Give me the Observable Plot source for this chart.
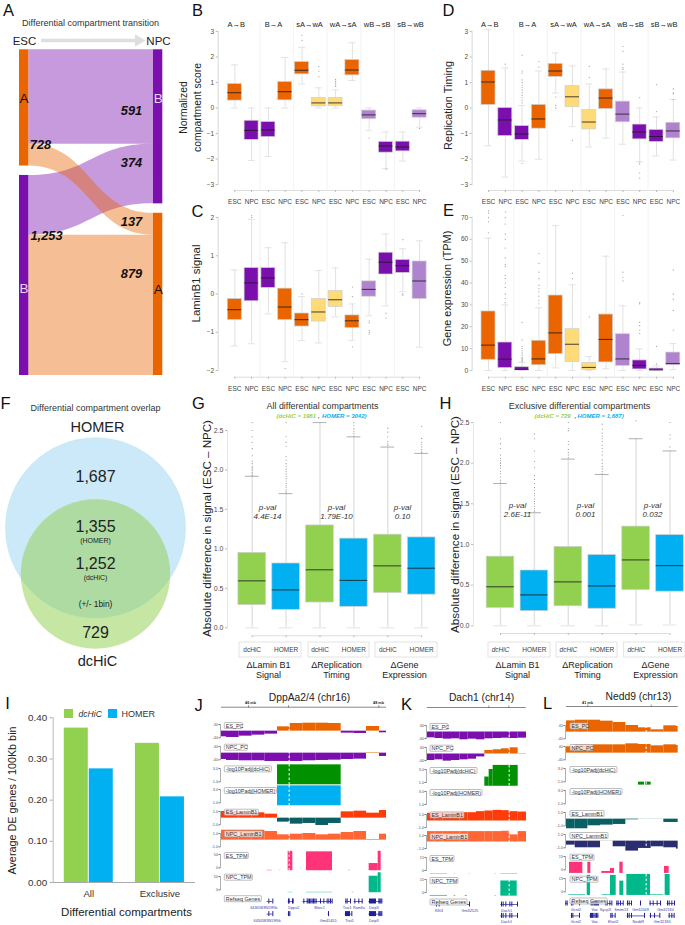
<!DOCTYPE html>
<html><head><meta charset="utf-8">
<script src="https://cdn.jsdelivr.net/npm/d3@7"></script>
<script src="https://cdn.jsdelivr.net/npm/@observablehq/plot@0.6"></script>
<style>html,body{margin:0;padding:0;background:#fff}#page{position:relative;width:685px;height:925px;overflow:hidden;font-family:"Liberation Sans"}</style>
</head><body><div id="page"></div>
<script>
// ---------- DATA ----------
const orange="#EA6500",purple="#7A0FAE",yellow="#FEDB77",lilac="#B083CF",green="#92D050",blue="#00B0F0";
const fills12=[orange,purple,purple,orange,orange,yellow,yellow,orange,lilac,purple,purple,lilac];
const cellLabels=["ESC","NPC","ESC","NPC","ESC","NPC","ESC","NPC","ESC","NPC","ESC","NPC"];

// A: sankey
const flowFrom=["A","A","B","B"], flowTo=["B","A","B","A"], flowValues=[591,137,374,879];
const sankeyGap=59;

// B: compartment score
const bLo=[0,-2.06,-1.9,0,.94,0,0,1.08,-.89,-2.37,-2.08,-.75];
const bQ1=[.29,-1.25,-1.14,.3,1.32,.06,.07,1.28,-.44,-1.75,-1.7,-.38];
const bMed=[.6,-.88,-.86,.64,1.48,.2,.2,1.49,-.27,-1.49,-1.53,-.22];
const bQ3=[.94,-.5,-.55,1.02,1.8,.39,.39,1.88,-.1,-1.33,-1.32,-.09];
const bHi=[1.69,0,0,1.98,2.38,.79,.71,2.56,0,-.94,-.94,0];
const bOut=[[],[],[],[],[2.85,2.65],[1.63,1.45,1.23],[1.12,1.05,.97,.9,.85],[],[-1.18],[-2.4],[],[-.8]];
// C: LaminB1
const cLo=[-1.36,-1.3,-.52,-1.77,-1.22,-1.28,-.6,-1.21,-.57,-.31,.06,-1.39];
const cQ1=[-.68,-.19,.16,-.68,-.85,-.72,-.34,-.89,-.07,.51,.55,-.13];
const cMed=[-.41,.29,.42,-.34,-.67,-.47,-.15,-.7,.12,.83,.74,.34];
const cQ3=[-.13,.68,.68,.14,-.51,-.13,.08,-.56,.33,1.08,.89,.85];
const cHi=[.63,1.95,1.21,1.34,-.07,.61,.68,-.26,.91,1.57,1.18,1.39];
const cOut=[[],[2,2.05],[],[-1.95],[0],[],[],[.18,-.07,-1.38],[-.7,-.75,-.95,-1,-1.05],[-.5,-.63],[1.42,0,-.03],[]];
// D: replication timing
const dLo=[-1.48,-2.71,-2.08,-2.01,.59,-.73,-1.53,-1.18,-1.42,-2.1,-1.88,-2.04];
const dQ1=[.12,-1.1,-1.25,-.81,1.22,.03,-.84,-.04,-.56,-1.23,-1.33,-1.19];
const dMed=[1.02,-.47,-1.02,-.43,1.45,.44,-.55,.39,-.24,-.94,-1.12,-.9];
const dQ3=[1.46,0,-.71,.12,1.73,.86,-.08,.73,.25,-.65,-.86,-.58];
const dHi=[3.08,1.57,.1,1.45,2.16,1.65,.94,1.53,1.41,0,-.35,.33];
const dOut=[[],[1.72],[2.07,1.45,1.37,1.1,1,.9,.8,.7,.6,.5,.4,.3,.2,-2.17],[1.82,1.6],[.43,.1,0],[-1.27],[1.63,1.2],[],[2.42,2.22,1.72,1.58,1.52],[.41,-2.15,-2.2,-2.55,-2.75],[.92,-.14],[.75,.6,.55,.33]];
// E: gene expression
const eLo=[0,0,0,0,1.2,0,0,.8,0,0,0,.4];
const eQ1=[4.9,1.1,0,2.4,7.5,3.8,.2,3.7,2.1,.5,0,2.4];
const eMed=[11.6,5.2,.5,5.3,17.2,12,1.4,14.2,5.3,2.3,.3,3.2];
const eQ3=[27,12.8,1.5,13.6,34.3,18.9,3.5,25.6,16.6,4.6,.9,8.2];
const eHi=[60.5,30,3.8,28.7,66.3,39.2,6.4,52.3,29.6,9.9,2.1,12.3];
const eOut=[[63,68,70,72,73],[31,33,35,38,40,42,43.5,47.5,48.5,51.5,56,60,62.5,67,70,72.5],[4,4.5,5,5.5,6,7,8,9,10,11,14,22],[30.5,32,34,36,37.5,39,42,45,49,53.5],[],[42,44.5],[24.5],[],[41,42.5,45,71],[17,18.5,20.5,22,30.5,31],[3,11],[18.5,27.5,32.5,35,46]];

// G, H: absolute differences
const methods=["dcHiC","HOMER","dcHiC","HOMER","dcHiC","HOMER"];
const methodsH=["","HOMER","","HOMER","","HOMER"];
const fills6=[green,blue,green,blue,green,blue];
const gLo=[0,0,0,0,0,0];
const gQ1=[.287,.228,.32,.266,.44,.42];
const gMed=[.595,.48,.735,.6,.785,.755];
const gQ3=[.95,.815,1.297,1.13,1.18,1.145];
const gHi=[1.92,1.7,2.6,2.42,2.29,2.21];
const gOut=[[1.93,1.95,1.97,1.99,2.01,2.03,2.05,2.08,2.11,2.18,2.27,2.35,2.42,2.5,2.6],[1.71,1.73,1.75,1.78,1.8,1.83,1.86,1.89,1.92,1.95,1.98,2.01,2.04,2.08,2.12,2.17,2.3,2.35,2.42,2.6],[],[2.43,2.46,2.49,2.52,2.56,2.6],[2.31,2.33,2.36,2.42,2.48,2.53],[2.22,2.24,2.26,2.29,2.32,2.35,2.4,2.55]];
const hLo=[0,0,0,0,.01,.01];
const hQ1=[.22,.18,.24,.21,.44,.42];
const hMed=[.48,.38,.54,.49,.81,.74];
const hQ3=[.85,.68,.97,.87,1.22,1.115];
const hHi=[1.75,1.39,2.05,1.86,2.3,2.15];
const hOut=[[1.76,1.79,1.83,1.87,1.9,1.94,1.97,2,2.03,2.06,2.1,2.18,2.24,2.3,2.5],[1.41,1.44,1.47,1.5,1.53,1.56,1.6,1.63,1.66,1.7,1.75,1.8,1.85,1.95,2.02,2.15,2.3,2.36],[2.07,2.1,2.13,2.17,2.23,2.27,2.4,2.43,2.5],[1.87,1.9,1.93,1.96,2,2.04,2.1,2.14,2.18,2.22,2.27,2.3,2.33,2.37,2.42,2.48],[2.52],[2.2,2.3,2.35,2.5]];

// I: DE genes
const iGroups=["All","All","Exclusive","Exclusive"], iMethods=["dcHiC","HOMER","dcHiC","HOMER"], iValues=[.375,.276,.338,.208];

// J: DppAa2/4 tracks (genomic offset units)
const jEdges=[78,93,131,170,208,246,284,322,361,399,437,475,513,552,573];
const jEsPc=[-34,-38,-30,-24,-18,26,46,48,48,46,-12,-14,28,-10];
const jNpcPc=[-38,-44,-46,-46,-50,-50,-50,-46,-44,-42,-38,-36,3,-20];
const jEsLam=[1,1,.8,.8,.6,-.6,-.9,-.8,-1.1,-.8,.95,1.05,.75,1.15];
const jNpcLam=[1.5,1.5,1.5,1.5,1.3,.8,.9,1,.8,.9,1.15,1.3,-.05,.9];
const jDc=[[246,437,3.55]], jHomer=[[246,437,3.55]];
const jEsTpm=[[278,292,62],[333,411,60],[521,548,16],[548,557,62],[215,230,-9.5],[253,256,-9.5],[460,465,-9.5]];
const jNpcTpm=[[521,548,51],[548,557,64],[278,292,-9.5],[333,411,-9.5],[470,475,-9.5]];
const jGeneLines=[[0,215,232],[0,278,295],[0,322,412],[0,450,466],[0,476,503],[0,520,560],[1,215,232],[1,278,285],[1,398,401],[1,449,470],[1,520,560]];
const jExons0=[220,232,279,281,291,293,325,335,338,342,346,350,354,358,362,375,385,395,400,405,410,451,455,465,478,490,500,522,525,528,531,534,537,540,550,553,556,559];
const jExons1=[220,232,279,283,399,450,453,456,459,462,469,522,525,528,531,534,537,540,550,553,556,559];
const jGenes=[[0,205,"6430583N19Rik"],[0,295,"Dppa2"],[0,372,"Morc1"],[0,455,"Trat1"],[0,490,"Ramlla"],[0,535,"Dzip3"],[1,215,"6430583N19Rik"],[1,398,"Gm41455"],[1,462,"Trat1"],[1,535,"Dzip3"]];
// K: Dach1
const kEdges=[125,147,172,197,222,247,272,297,322,347,372,397,422];
const kEsPc=[-36,-40,-44,-42,-48,-44,-48,-42,-40,-38,-40,-38];
const kNpcPc=[-40,-36,-44,-40,-36,-32,-18,22,26,32,38,2];
const kEsLam=[1.18,1.28,1.28,1.28,1.28,1.28,1.44,1.54,1.64,1.59,1.44,1.38];
const kNpcLam=[1.6,1.6,1.6,1.6,1.6,1.6,1.6,1.6,1.6,1.65,1.1,1.6];
const kDc=[[297,310,1.84],[310,322,3],[322,397,3.63]], kHomer=[];
const kEsTpm=[[133,185,-3.8],[207,210,-3.8],[250,253,-3.8],[328,331,-3.8],[345,395,-3.8]];
const kNpcTpm=[[345,394,13.3],[133,185,-3.4],[205,210,-3.4],[238,245,-3.4],[328,331,-3.4]];
const kGeneLines=[[0,150,162],[0,245,253],[0,345,397],[1,345,397]];
const kExons0=[152,160,251,347,352,360,372,378,395];
const kExons1=[347,352,360,372,378,395];
const kGenes=[[0,160,"Klhl1"],[0,252,"Gm32525"],[0,362,"Dach1"],[1,362,"Dach1"]];
// L: Nedd9
const lEdges=[108,134,172,210,248,286,324,362,400,438,443];
const lEsPc=[68,72,72,66,58,40,26,14,38,34];
const lNpcPc=[38,50,50,50,50,56,52,44,50,46];
const lEsLam=[-1.45,-1.45,-1,-.9,-.8,-.1,-.02,-.02,-.5,-.5];
const lNpcLam=[-.6,-1,-1,-.02,-.85,-1.5,-1.1,-.85,-1,-1.2];
const lDc=[[324,342,.95],[345,362,.95]], lHomer=[];
const lEsTpm=[[117,157,8.5],[172,181,8.5],[214,240,-1.9],[240,252,1.5],[268,278,8.5],[402,416,3.8]];
const lNpcTpm=[[170,180,18.5],[240,257,18.5],[268,280,12],[289,360,19.6],[404,419,19.6],[115,165,-3.4],[215,240,-3.4],[360,400,-3.4]];
const lGeneLines=[[0,105,112],[0,122,150],[0,180,205],[0,225,245],[0,258,280],[0,290,305],[0,358,390],[0,410,435],[1,122,150],[1,178,205],[1,240,255],[1,290,345],[1,358,390],[1,415,432]];
const lExons0=[106,110,123,127,147,182,185,188,192,195,198,201,204,226,230,238,244,259,263,270,278,291,296,303,330,359,368,380,390,411,416,424,432];
const lExons1=[123,127,147,180,183,186,190,194,198,202,241,245,254,291,296,303,342,360,372,388,416,424,431];
const lGenes=[[0,136,"Gcnt2"],[0,192,"Vax"],[0,225,"Sycp2l"],[0,272,"Smim13"],[0,330,"Gm32449"],[0,405,"Gm32184"],[1,136,"Gcnt2"],[1,192,"Vax"],[1,248,"Elovl2"],[1,323,"Nedd9"],[1,395,"Gm32184"]];

// ---------- HELPERS ----------
const page=document.getElementById("page");
const baseStyle={background:"transparent",overflow:"visible",maxWidth:"none",fontFamily:"Liberation Sans"};
function mount(opts,left,top){
  const el=Plot.plot({...opts,style:baseStyle});
  el.style.position="absolute";el.style.left=left+"px";el.style.top=top+"px";
  page.appendChild(el);return el;
}
function boxPanel(c){
  const n=c.lo.length, W=c.w, H=c.h;
  const pad=1-c.boxW/c.step;
  const start=c.c0-(pad+(1-pad)/2)*c.step, end=start+(n+pad)*c.step;
  const rows=c.lo.map((lo,i)=>({i,lo,q1:c.q1[i],med:c.med[i],q3:c.q3[i],hi:c.hi[i],fill:c.fills[i]}));
  const outs=c.out.flatMap((a,i)=>a.map(v=>({i,v})));
  const marks=[];
  if(c.seps) marks.push(Plot.ruleX(c.seps,{x:d=>d,dx:c.step/2,stroke:"#f0f0f0",strokeWidth:.8,insetTop:-10,insetBottom:-7}));
  marks.push(
    Plot.frame({anchor:"left",stroke:"#e6e6e6",strokeWidth:c.axisW||1.6}),
    Plot.axisY({ticks:c.ticks,tickSize:2,tickPadding:2,fontSize:c.tickFont,fill:"#4d4d4d",stroke:"#bbbbbb",label:null,tickFormat:c.fmt}),
    Plot.ruleX(rows,{x:"i",y1:"lo",y2:"hi",stroke:"#e2e2e2",strokeWidth:c.whisk||1}),
    Plot.tickY(rows,{x:"i",y:"hi",stroke:c.capHi||"#dcdcdc",strokeWidth:.8,insetLeft:c.boxW/4,insetRight:c.boxW/4}),
    Plot.tickY(rows,{x:"i",y:"lo",stroke:"#dcdcdc",strokeWidth:.8,insetLeft:c.boxW/4,insetRight:c.boxW/4}),
    Plot.dot(outs,{x:"i",y:"v",r:c.outR||.65,fill:c.outFill||"#a8a8a8"}),
    Plot.barY(rows,{x:"i",y1:"q1",y2:"q3",fill:"fill",stroke:"#cfcfcf",strokeWidth:.7}),
    Plot.tickY(rows,{x:"i",y:"med",stroke:"#1c1c1c",strokeOpacity:.75,strokeWidth:1.1}),
    Plot.ruleY([c.yDomain[0]],{x1:0,x2:n-1,insetLeft:c.boxW/2,insetRight:c.boxW/2,dy:c.axisDy,stroke:"#dddddd",strokeWidth:1}),
    Plot.axisX({tickSize:2,dy:c.axisDy,tickPadding:c.tickPad,fontSize:c.xFont,fill:"#404040",stroke:"#bbbbbb",label:null,tickFormat:i=>c.labels[i]})
  );
  mount({width:W,height:H,marginLeft:c.axisX,marginRight:4,marginTop:c.yTop,marginBottom:H-c.yBot,
    x:{type:"band",domain:d3.range(n),range:[start,end],padding:pad,round:false},
    y:{domain:c.yDomain,range:[c.yBot,c.yTop]},color:{type:"identity"},marks},c.left,c.top);
}
function track(g,t){
  const W=g.R-g.L+22,H=30,yT=12,yB=12+g.span;
  const binned=(t.bars||[]).map((v,i)=>({a:g.edges[i],b:g.edges[i+1],base:0,v,fill:v>=0?t.pos:t.neg}));
  const seg=(t.segs||[]).map(([a,b,v])=>({a,b,base:t.base,v,fill:t.pos}));
  mount({width:W,height:H,marginLeft:20,marginRight:2,marginTop:yT,marginBottom:H-yB,
    x:{domain:[g.edges[0],g.edges[g.edges.length-1]],range:[20,W-2],axis:null},
    y:{domain:[t.lo,t.hi],range:[yB,yT]},color:{type:"identity"},
    marks:[
      Plot.rect([...binned,...seg],{x1:"a",x2:"b",y1:"base",y2:"v",fill:"fill"}),
      Plot.ruleX([g.dash],{x:d=>d,stroke:"#fff",strokeWidth:1,strokeDasharray:"2.5,2",insetTop:-4,insetBottom:-4}),
      Plot.frame({anchor:"left",stroke:"#777",strokeWidth:.6,dx:-1}),
      Plot.axisY({ticks:[t.lo,t.hi],tickSize:1.5,tickPadding:1,fontSize:3.8,fill:"#555",stroke:"#777",dx:-1,label:null,tickFormat:d=>d===t.hi?t.hiL:t.loL})
    ]},g.L-20,t.y-yT);
}
function genes(g){
  const top=g.y0-3, W=g.R-g.L, H=32;
  const ex=[...g.ex0.map(x=>({r:0,x})),...g.ex1.map(x=>({r:1,x}))];
  const gap=g.y1-g.y0, bw=5;
  mount({width:W,height:H,margin:0,
    x:{domain:[g.edges[0],g.edges[g.edges.length-1]],range:[0,W],axis:null},
    y:{type:"band",domain:[0,1],range:[g.y0-2.5-top,g.y1+2.5-top],paddingInner:1-bw/gap,paddingOuter:0,round:false,axis:null},
    marks:[
      Plot.ruleY(g.lines,{y:d=>d[0],x1:d=>d[1],x2:d=>d[2],stroke:"#20209a",strokeWidth:.7}),
      Plot.tickX(ex,{x:"x",y:"r",stroke:"#20209a",strokeWidth:1}),
      Plot.text(g.names,{x:d=>d[1],y:d=>d[0],text:d=>d[2],dy:g.nameDy,fontSize:3.8,fill:"#3a3ab0"})
    ]},g.L,top);
}
const TRACK_TAGS=["ES_PC","NPC_PC","-log10Padj(dcHiC)","-log10Padj(HOMER)","ES_LaminB1","NPC_LaminB1","ES_TPM","NPC_TPM"];
const TAG_W=[18,23,47,52,34,38,24,28];
function genomePanel(g){
  const lamE=["#FF3B0A","#0A5F62"],lamN=["#FF6633","#2B2E6E"];
  const defs=[
    {hi:40,lo:-40,hiL:"40",loL:"-40",bars:g.esPc,pos:orange,neg:purple},
    {hi:40,lo:-40,hiL:"40",loL:"-40",bars:g.npcPc,pos:orange,neg:purple},
    {hi:3,lo:1,hiL:"3.0",loL:"1.0",segs:g.dc,base:g.dcBase,pos:"#009000"},
    {hi:3,lo:1,hiL:"3.0",loL:"1.0",segs:g.homer,base:.55,pos:blue},
    {hi:1,lo:-1,hiL:"1.0",loL:"-1.0",bars:g.esLam,pos:lamE[0],neg:lamE[1]},
    {hi:1,lo:-1,hiL:"1.0",loL:"-1.0",bars:g.npcLam,pos:lamN[0],neg:lamN[1]},
    {hi:g.tpm,lo:0,hiL:String(g.tpm),loL:"0",segs:g.esTpm,base:g.tpmBase,pos:"#FF3377"},
    {hi:g.tpm,lo:0,hiL:String(g.tpm),loL:"0",segs:g.npcTpm,base:g.tpmBase,pos:"#00B889"}
  ];
  defs.forEach((d,i)=>track(g,{...d,y:g.ys[i]}));
  genes(g);
}

// ---------- PANEL A ----------
(function(){
  const flows=flowValues.map((value,i)=>({from:flowFrom[i],to:flowTo[i],value}));
  const sum=(f)=>d3.sum(flows.filter(f),d=>d.value);
  const leftA=sum(d=>d.from==="A"), rightB=sum(d=>d.to==="B");
  let l={A:0,B:leftA+sankeyGap}, r={B:0,A:rightB+sankeyGap};
  const total=d3.sum(flowValues)+sankeyGap;
  const nodeW=.065;
  const pts=[]; flows.forEach((f,id)=>{
    const a=l[f.from],b=r[f.to]; l[f.from]+=f.value; r[f.to]+=f.value;
    pts.push({id,to:f.to,x:nodeW,y1:a,y2:a+f.value},{id,to:f.to,x:1-nodeW,y1:b,y2:b+f.value});
  });
  const leftNodes=[{x1:0,x2:nodeW,y1:0,y2:leftA,fill:orange},{x1:0,x2:nodeW,y1:leftA+sankeyGap,y2:total,fill:purple}];
  const rightNodes=[{x1:1-nodeW,x2:1,y1:0,y2:rightB,fill:purple},{x1:1-nodeW,x2:1,y1:rightB+sankeyGap,y2:total,fill:orange}];
  mount({width:175,height:345,margin:0,x:{domain:[0,1],range:[19,162.3],axis:null},y:{domain:[0,total],range:[9.3,335],axis:null},color:{type:"identity"},
    marks:[
      Plot.areaY(pts.filter(d=>d.to==="B"),{x:"x",y1:"y1",y2:"y2",z:"id",fill:purple,fillOpacity:.42,curve:"bump-x"}),
      Plot.areaY(pts.filter(d=>d.to==="A"),{x:"x",y1:"y1",y2:"y2",z:"id",fill:orange,fillOpacity:.42,curve:"bump-x"}),
      Plot.rect([...leftNodes,...rightNodes],{x1:"x1",x2:"x2",y1:"y1",y2:"y2",fill:"fill"})
    ]},0,40);
})();

// ---------- PANELS B-E ----------
const seps=[1,3,5,7,9];
const fmtInt=d=>String(d).replace("-","−");
const commonTop={step:16.8,boxW:14,labels:cellLabels,fills:fills12,seps,tickFont:6.5,xFont:6.5,w:245,h:195,tickPad:7,fmt:fmtInt};
boxPanel({...commonTop,left:190,top:20,axisX:27.7,c0:44.3,yTop:11,yBot:164,axisDy:6,yDomain:[-3,3],ticks:d3.range(-3,4),lo:bLo,q1:bQ1,med:bMed,q3:bQ3,hi:bHi,out:bOut});
boxPanel({...commonTop,left:190,top:205,axisX:27.7,c0:44.3,yTop:12,yBot:165,axisDy:6.7,yDomain:[-2,2],ticks:d3.range(-2,3),lo:cLo,q1:cQ1,med:cMed,q3:cQ3,hi:cHi,out:cOut});
boxPanel({...commonTop,left:435,top:20,axisX:36.7,c0:53,yTop:11,yBot:164,axisDy:6,yDomain:[-3,3],ticks:d3.range(-3,4),lo:dLo,q1:dQ1,med:dMed,q3:dQ3,hi:dHi,out:dOut});
boxPanel({...commonTop,left:435,top:205,axisX:36.7,c0:53,yTop:12,yBot:165,axisDy:6.7,yDomain:[0,70],ticks:d3.range(0,71,10),lo:eLo,q1:eQ1,med:eMed,q3:eQ3,hi:eHi,out:eOut});

// ---------- PANELS G,H ----------
const commonLow={step:33.9,boxW:27.6,fills:fills6,tickFont:7,xFont:6.5,w:250,h:240,whisk:1.4,axisW:1,outR:.55,outFill:"#8a8a8a",yDomain:[0,2.5],ticks:[0,.5,1,1.5,2,2.5],fmt:d3.format(".1f"),capHi:"#9a9a9a"};
boxPanel({...commonLow,labels:methods,tickPad:9.5,left:190,top:420,axisX:37,c0:61.7,yTop:10,yBot:207.3,axisDy:8,lo:gLo,q1:gQ1,med:gMed,q3:gQ3,hi:gHi,out:gOut});
boxPanel({...commonLow,labels:methodsH,tickPad:11.8,left:435,top:415,axisX:38,c0:65,yTop:7,yBot:210.3,axisDy:7.7,lo:hLo,q1:hQ1,med:hMed,q3:hQ3,hi:hHi,out:hOut});

// ---------- PANEL F ----------
const vennSets=["HOMER","dcHiC"];
mount({width:190,height:225,margin:0,x:{type:"identity",axis:null},y:{type:"identity",axis:null},marks:[
  Plot.dot([vennSets[0]],{x:()=>95,y:()=>97.3,r:90,fill:"#CBE9F9",stroke:"#c0dfef",strokeWidth:.5}),
  Plot.dot([vennSets[1]],{x:()=>95,y:()=>143.5,r:74.7,fill:green,fillOpacity:.52})
]},0,430);

// ---------- PANEL I ----------
const iRows=iValues.map((v,i)=>({g:iGroups[i],m:iMethods[i],v}));
mount({width:200,height:205,marginLeft:52.7,marginRight:5,marginTop:17.3,marginBottom:23,
  fx:{domain:["All","Exclusive"],padding:0,round:false,label:null},
  x:{domain:["dcHiC","HOMER"],paddingInner:.04,paddingOuter:.443,round:false,axis:null},
  y:{domain:[0,.4],label:null},color:{type:"identity"},
  marks:[
    Plot.barY(iRows,{fx:"g",x:"m",y:"v",fill:d=>d.m==="dcHiC"?green:blue}),
    Plot.ruleY([0],{stroke:"#aaa",strokeWidth:1}),
    Plot.frame({anchor:"left",stroke:"#aaa",strokeWidth:.8,facet:"super"}),
    Plot.axisY({ticks:[0,.1,.2,.3,.4],tickFormat:d3.format(".2f"),tickSize:3,tickPadding:3,fontSize:9.8,fill:"#333",stroke:"#aaa",label:null}),
    Plot.axisFx({anchor:"bottom",tickSize:0,tickPadding:8,fontSize:9.6,fill:"#333",label:null})
  ]},0,700);

// ---------- PANELS J,K,L ----------
genomePanel({L:221,R:386,edges:jEdges,dash:281,span:13.3,ys:[724.3,746,767.7,789.3,811,832.7,854.3,876],esPc:jEsPc,npcPc:jNpcPc,esLam:jEsLam,npcLam:jNpcLam,dc:jDc,dcBase:.55,homer:jHomer,esTpm:jEsTpm,npcTpm:jNpcTpm,tpm:50,tpmBase:-11,
  y0:900.7,y1:913.3,lines:jGeneLines,ex0:jExons0,ex1:jExons1,names:jGenes,nameDy:6.2});
genomePanel({L:426.7,R:525.7,edges:kEdges,dash:370,span:13,ys:[725.3,747,769.3,791.3,813.7,835.3,857.3,879.3],esPc:kEsPc,npcPc:kNpcPc,esLam:kEsLam,npcLam:kNpcLam,dc:kDc,dcBase:.42,homer:kHomer,esTpm:kEsTpm,npcTpm:kNpcTpm,tpm:15,tpmBase:-4.2,
  y0:904.3,y1:915.7,lines:kGeneLines,ex0:kExons0,ex1:kExons1,names:kGenes,nameDy:6});
genomePanel({L:566,R:677.7,edges:lEdges,dash:347,span:13.3,ys:[724.7,746.3,768.3,790.3,812.3,834.3,856,878],esPc:lEsPc,npcPc:lNpcPc,esLam:lEsLam,npcLam:lNpcLam,dc:lDc,dcBase:.5,homer:lHomer,esTpm:lEsTpm,npcTpm:lNpcTpm,tpm:15,tpmBase:-4.1,
  y0:903.3,y1:915.7,lines:lGeneLines,ex0:lExons0,ex1:lExons1,names:lGenes,nameDy:5.8});

// ---------- TEXT AND FRAME OVERLAY ----------
const ov=[];
const T=(text,x,y,o={})=>ov.push(Plot.text([text],{text:d=>d,x:()=>x,y:()=>y,fontSize:8,fill:"#222",...o}));
const R=(x1,x2,y1,y2,o={})=>ov.push(Plot.rect([0],{x1:()=>x1,x2:()=>x2,y1:()=>y1,y2:()=>y2,fill:"none",...o}));
const H=(x1,x2,y,o={})=>ov.push(Plot.ruleY([0],{y:()=>y,x1:()=>x1,x2:()=>x2,stroke:"#555",strokeWidth:.7,...o}));
const V=(x,y1,y2,o={})=>ov.push(Plot.ruleX([0],{x:()=>x,y1:()=>y1,y2:()=>y2,stroke:"#555",strokeWidth:.6,...o}));
// panel letters
[["A",8,10],["B",197,10],["C",197,211],["D",448,10],["E",448,210],["F",5,403],["G",198,403],["H",445,403],["I",7,703],["J",198,705],["K",406,704],["L",547,703]]
  .forEach(([t,x,y])=>T(t,x,y,{fontSize:16.5,fill:"#111"}));
// A
T("Differential compartment transition",90,23,{fontSize:9,fill:"#333"});
T("ESC",24,41,{fontSize:11.5});T("NPC",158,41,{fontSize:11.5});
H(41,138,40,{stroke:"#dedede",strokeWidth:3.5});
ov.push(Plot.dot([0],{x:()=>138,y:()=>40,symbol:"triangle",r:4.6,rotate:90,fill:"#dedede"}));
T("A",23.5,98,{fontSize:13.5,fill:"#111"});T("B",23.5,288,{fontSize:13.5,fill:"#e8d4f5"});
T("B",157.7,98,{fontSize:13.5,fill:"#e8d4f5"});T("A",157.7,289,{fontSize:13.5,fill:"#111"});
const bi={fontSize:12.8,fontWeight:"bold",fontStyle:"italic",fill:"#111"};
T("591",131,110,bi);T("374",131,162,bi);T("137",131,221,bi);T("879",131,273,bi);T("728",40,144,bi);T("1,253",46,235,bi);
// B-E headers
const heads=["A→B","B→A","sA→wA","wA→sA","wB→sB","sB→wB"];
[235.7,273,309,342.7,376.7,410].forEach((x,i)=>T(heads[i],x,24,{fontSize:7.5}));
[489.3,527,563,596.7,630,663.7].forEach((x,i)=>T(heads[i],x,24,{fontSize:7.5}));
const yl={fontSize:10.9,rotate:-90,fill:"#222"};
T("Normalized",183,107,{...yl,fontSize:10.4});T("compartment score",197,107,{...yl,fontSize:10.4});T("LaminB1 signal",196,283,{...yl,fontSize:11.4});T("Replication Timing",448,105,yl);T("Gene expression (TPM)",447,288,yl);
// F
T("Differential compartment overlap",95,408,{fontSize:9,fill:"#333"});
T("HOMER",97,427,{fontSize:14.5});T("1,687",95,476,{fontSize:16});T("1,355",95,526,{fontSize:16});T("(HOMER)",95,540,{fontSize:7});
T("1,252",95,563,{fontSize:16});T("(dcHiC)",95,577,{fontSize:7});T("(+/- 1bin)",95,604,{fontSize:8.4});T("729",95,632,{fontSize:16});T("dcHiC",97,661,{fontSize:14.6});
// G
T("All differential compartments",322,406,{fontSize:8.9,fill:"#333"});
const sg={fontSize:6,fontWeight:"bold",fontStyle:"italic",textAnchor:"start"};
T("(dcHiC = 1981",276,415.5,{...sg,fill:green});T(",",317.5,415.5,{...sg,fill:"#333"});T("HOMER = 3042)",321.5,415.5,{...sg,fill:blue});
const ylab={fontSize:11.6,rotate:-90,fill:"#222"};
T("Absolute difference in signal (ESC – NPC)",207,528,ylab);
const pv={fontSize:8,fontStyle:"italic",fill:"#333"};
[[267,"4.4E-14"],[336,"1.79E-10"],[402,"0.10"]].forEach(([x,t])=>{T("p-val",x,507,pv);T(t,x,516,pv);});
// H
T("Exclusive differential compartments",579,406,{fontSize:9,fill:"#333"});
T("(dcHiC = 729",534,415.5,{...sg,fill:green});T(",",574,415.5,{...sg,fill:"#333"});T("HOMER = 1,687)",577,415.5,{...sg,fill:blue});
T("Absolute difference in signal (ESC – NPC)",455,524,ylab);
[[517,"2.6E-11"],[585,"0.001"],[652,"0.032"]].forEach(([x,t])=>{T("p-val",x,505,pv);T(t,x,514,pv);});
[500,567.9,635.8].forEach(x=>T("dcHiC",x,649.8,{fontSize:6.5,fontStyle:"italic",fill:"#404040"}));
// group boxes and labels
[[239,301],[308,369],[375,437],[488,550],[556,617],[623.7,685]].forEach(([a,b])=>R(a,b,642,657,{stroke:"#dcdcdc",strokeWidth:.8}));
[[268,"ΔLamin B1","Signal"],[336,"ΔReplication","Timing"],[404,"ΔGene","Expression"],[517,"ΔLamin B1","Signal"],[587,"ΔReplication","Timing"],[655,"ΔGene","Expression"]]
 .forEach(([x,a,b])=>{T(a,x,664.5,{fontSize:9});T(b,x,675,{fontSize:9});});
// I
R(64,73,709,718,{fill:green});R(108,117,709,718,{fill:blue});
T("dcHiC",78,713.5,{fontSize:8.6,fontStyle:"italic",textAnchor:"start",fill:"#333"});T("HOMER",121,713.5,{fontSize:9,textAnchor:"start",fill:"#333"});
T("Average DE genes / 100Kb bin",12,800,{fontSize:10.8,rotate:-90});
T("Differential compartments",126,912,{fontSize:11.5});
// J, K, L titles & rulers
T("DppAa2/4 (chr16)",309,697,{fontSize:10.3});T("Dach1 (chr14)",481,697,{fontSize:10.3});T("Nedd9 (chr13)",638,696,{fontSize:10.3});
H(221,386,706.7);H(426.7,525.7,707);H(566,677.7,706);
[[288,706.7],[248,706.7],[378.3,706.7],[488.3,707],[508.3,707],[587.3,706],[650.7,706]].forEach(([x,y])=>V(x,y-1.5,y+1));
T("46 mb",250,702.5,{fontSize:3.8,fontWeight:"bold"});T("48 mb",378,702.5,{fontSize:3.8,fontWeight:"bold"});T("41 mb",587,702.5,{fontSize:3.8,fontWeight:"bold"});
const tag=(name,x,y,w)=>{R(x,x+w,y-3,y+3,{fill:"#fff",fillOpacity:.75,stroke:"#a0a0a0",strokeWidth:.7,rx:.8});T(name,x+1,y,{fontSize:5.4,textAnchor:"start",fill:"#333"});};
const tagSets=[[224.3,[724.3,746,767.7,789.3,811,832.7,854.3,876],898.7],[430,[725.3,747,769.3,791.3,813.7,835.3,857.3,879.3],902],[570,[724.7,746.3,768.3,790.3,812.3,834.3,856,878],901]];
tagSets.forEach(([x,ys,gy])=>{ys.forEach((y,i)=>tag(TRACK_TAGS[i],x,y+1.2,TAG_W[i]));tag("Refseq Genes",x,gy,37);});

mount({width:685,height:925,margin:0,x:{type:"identity",axis:null},y:{type:"identity",axis:null},marks:ov},0,0);
</script></body></html>
